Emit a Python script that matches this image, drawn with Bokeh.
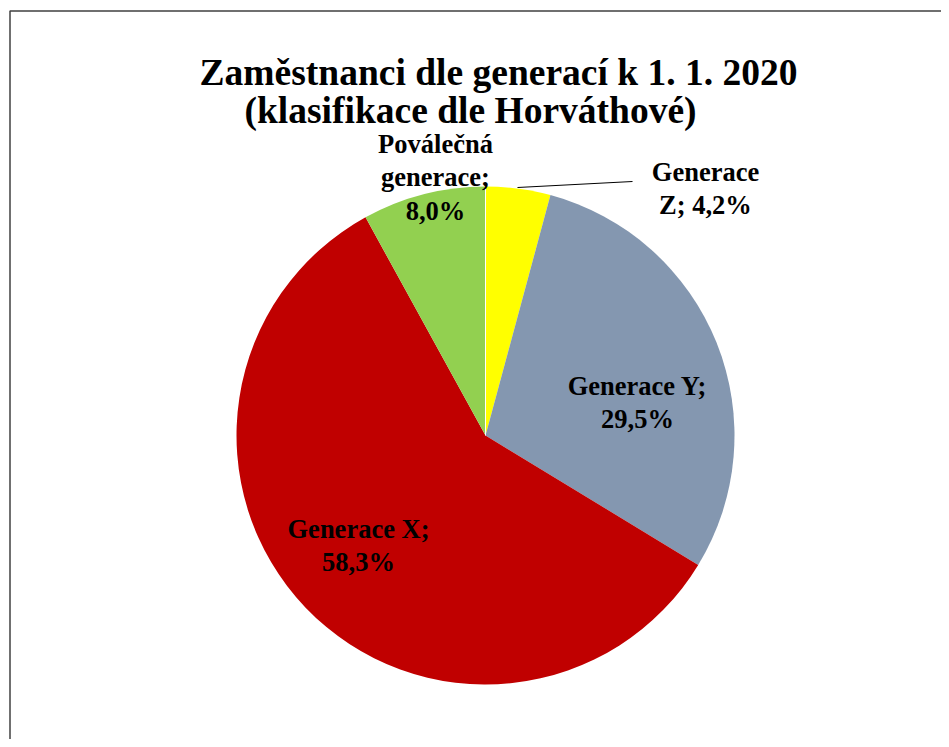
import math
from bokeh.plotting import figure
from bokeh.models import Range1d, ColumnDataSource
from bokeh.core.properties import value
from bokeh.embed import file_html
from bokeh.resources import INLINE

# ---- data ----
categories = ["Generace Z", "Generace Y", "Generace X", "Poválečná generace"]
shares = [4.2, 29.5, 58.3, 8.0]
colors = ["#FFFF00", "#8497B0", "#C00000", "#92D050"]
label_texts = ["Generace\nZ; 4,2%", "Generace Y;\n29,5%", "Generace X;\n58,3%", "Poválečná\ngenerace;\n8,0%"]
title_lines = ["Zaměstnanci dle generací k 1. 1. 2020", "(klasifikace dle Horváthové)"]

# ---- layout (pixel-like units, origin at pie centre) ----
W, H = 941, 739
CX, CY = 485, 435          # pie centre from canvas top-left
R = 249

p = figure(width=W, height=H, output_backend="svg", toolbar_location=None,
           x_range=Range1d(-CX, W - CX), y_range=Range1d(-(H - CY), CY),
           min_border=0)
p.axis.visible = False
p.grid.visible = False
p.outline_line_color = None
p.background_fill_color = "white"
p.border_fill_color = "white"

total = sum(shares)
starts, ends = [], []
cum = 0.0
for s in shares:
    a0 = math.pi / 2 - 2 * math.pi * cum / total
    cum += s
    a1 = math.pi / 2 - 2 * math.pi * cum / total
    starts.append(a0)
    ends.append(a1)

src = ColumnDataSource(dict(cat=categories, val=shares, color=colors,
                            start=starts, end=ends))
p.wedge(x=0, y=0, radius=R, start_angle="start", end_angle="end",
        direction="clock", fill_color="color", line_color=None, source=src)

# thin white separator at top (between green and yellow)
p.segment(x0=[0], y0=[0], x1=[0], y1=[R], line_color="white", line_width=1)

# labels (offsets from pie centre, pixel units)
lab_x = [705 - CX, 637 - CX, 358 - CX, 435 - CX]
lab_y = [CY - 188, CY - 402, CY - 545, CY - 177]
p.text(x=lab_x, y=lab_y, text=label_texts, text_align="center",
       text_baseline="middle", text_font=value("Liberation Serif"),
       text_font_style="bold", text_font_size="26.5px", text_color="black",
       text_line_height=1.12)

# leader line for Generace Z
p.line(x=[517 - CX, 632 - CX], y=[CY - 187, CY - 181], line_color="black", line_width=1)

# title
p.text(x=[498 - CX, 470 - CX], y=[CY - 72, CY - 110], text=title_lines,
       text_align="center", text_baseline="middle",
       text_font=value("Liberation Serif"), text_font_style="bold",
       text_font_size="37.5px", text_color="black")

# chart-area border (left and top visible part)
bx = 9.5 - CX
by = CY - 10.5
p.line(x=[bx, bx, W - CX + 5], y=[-(H - CY) - 5, by, by], line_color="#404040", line_width=1.5)

open("out.html", "w").write(file_html(p, INLINE))
